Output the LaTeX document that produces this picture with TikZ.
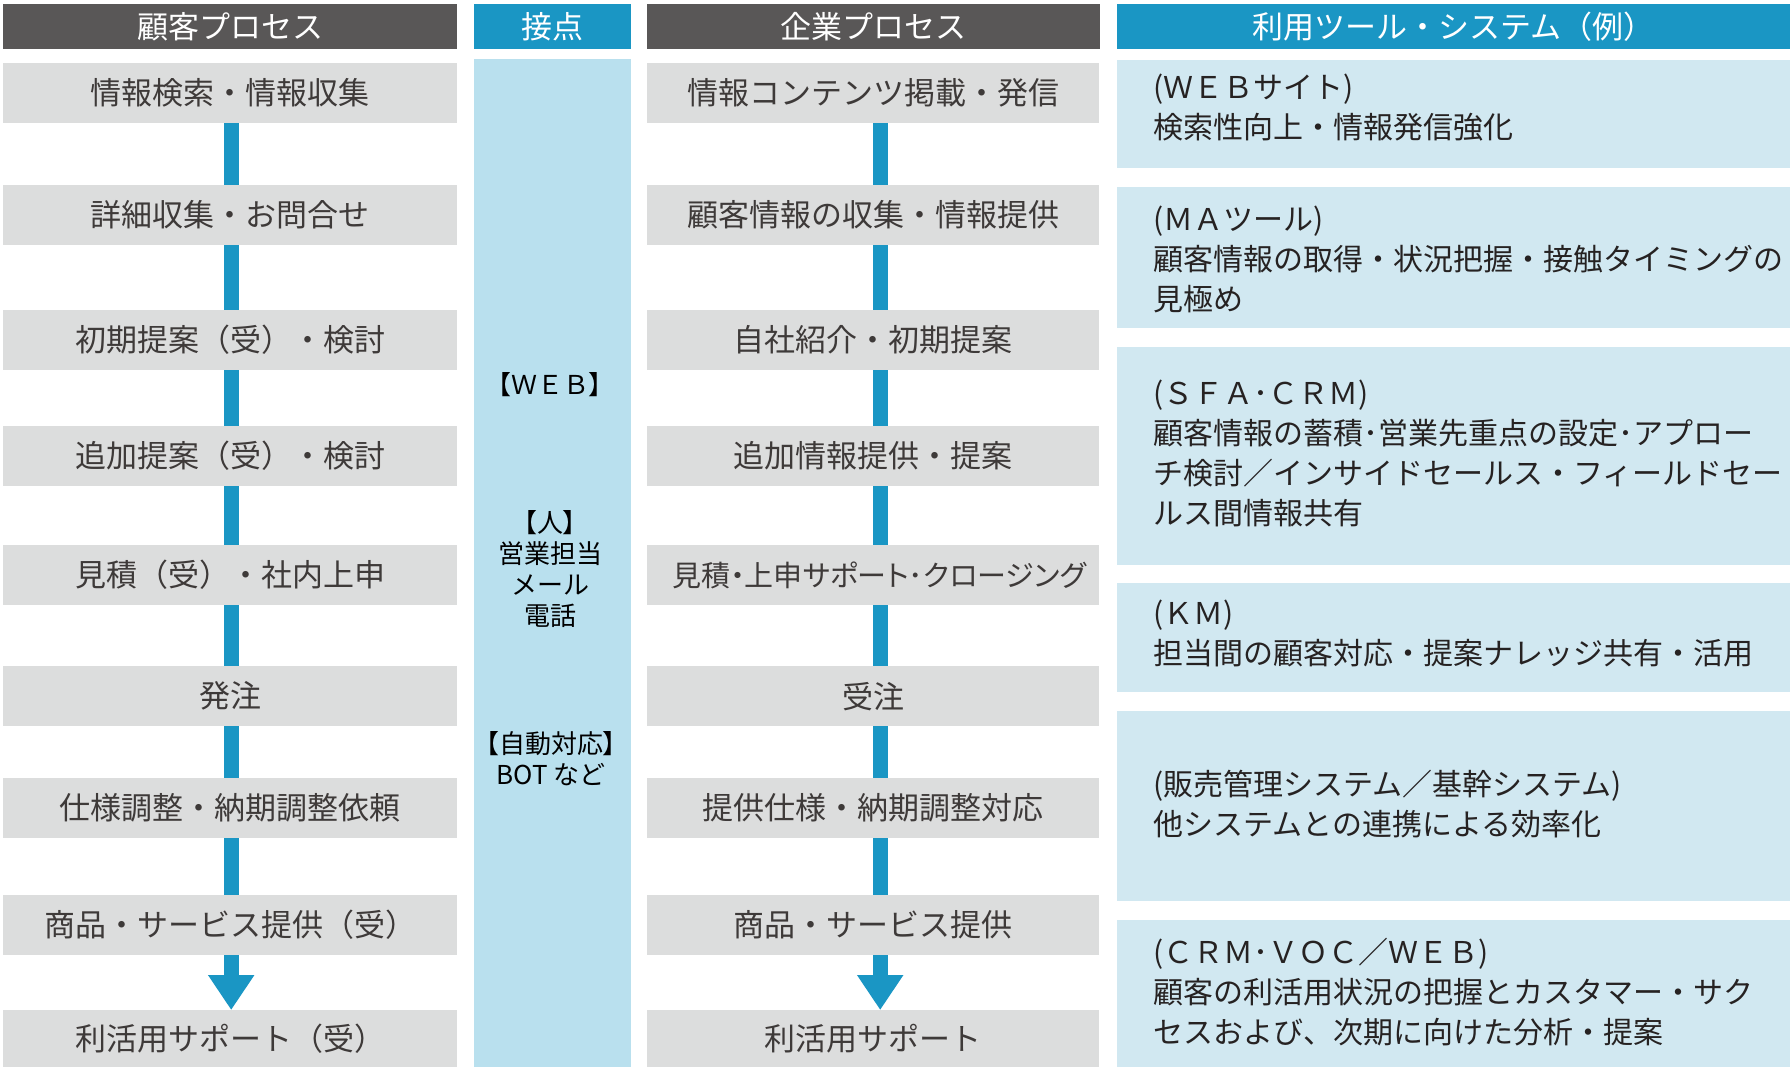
\documentclass[tikz,border=0pt]{standalone}
\usepackage{fontspec}
\setmainfont{Noto Sans CJK JP}
\newfontfamily\jpp{Noto Sans CJK JP}[RawFeature=+palt]
\usetikzlibrary{arrows.meta}
\definecolor{hdrdark}{HTML}{595757}
\definecolor{hdrblue}{HTML}{1A96C4}
\definecolor{boxgray}{HTML}{DCDDDD}
\definecolor{touchblue}{HTML}{B9E0EE}
\definecolor{toolblue}{HTML}{D1E8F1}
\definecolor{txtgray}{HTML}{3E3A39}
\definecolor{txtdark}{HTML}{262222}
\begin{document}
\begin{tikzpicture}[x=1pt,y=-1pt,
  hdr/.style={anchor=north west, inner sep=0pt, minimum height=45pt, text=white, font=\fontsize{31}{36}\selectfont},
  procbox/.style={anchor=north west, fill=boxgray, inner sep=0pt, minimum height=60pt, align=center, text=txtgray, font=\fontsize{31}{36}\selectfont},
  toolbox/.style={anchor=north west, fill=toolblue, inner sep=0pt, minimum width=673pt},
  tooltext/.style={anchor=west, inner sep=0pt, align=left, text=txtdark, font=\fontsize{30}{40}\selectfont},
  touchtext/.style={inner sep=0pt, align=center, text=black, font=\fontsize{26}{31}\selectfont},
  conn/.style={draw=hdrblue, line width=15pt},
  connarrow/.style={draw=hdrblue, line width=15pt, -{Triangle[length=35pt,width=44pt]}}
]
\useasboundingbox (0,0) rectangle (1790,1067);
\clip (0,0) rectangle (1790,1067);

% headers
\node[hdr, fill=hdrdark, minimum width=454pt] (h1) at (3,4) {顧客プロセス};
\node[hdr, fill=hdrblue, minimum width=157pt] (h2) at (474,4) {接点};
\node[hdr, fill=hdrdark, minimum width=453pt] (h3) at (647,4) {企業プロセス};
\node[hdr, fill=hdrblue, minimum width=673pt] (h4) at (1117,4) {利用ツール・システム（例）};

% touch point column
\node[anchor=north west, fill=touchblue, inner sep=0pt, minimum width=157pt, minimum height=1008pt] (tp) at (474,59) {};
\node[touchtext] (tpa) at (550,385) {{\jpp【}ＷＥＢ{\jpp】}};
\node[touchtext] (tpb) at (550,569) {{\jpp【}人{\jpp】}\\営業担当\\メール\\電話};
\node[touchtext] (tpc) at (551,759) {{\jpp【自動対応】}\\BOT など};

% customer process
\tikzset{cbox/.style={procbox, text width=454pt}, ebox/.style={procbox, text width=452pt}}
\node[cbox] (c1) at (3,63) {情報検索・情報収集};
\node[cbox] (c2) at (3,185) {詳細収集・お問合せ};
\node[cbox] (c3) at (3,310) {初期提案（受）・検討};
\node[cbox] (c4) at (3,426) {追加提案（受）・検討};
\node[cbox] (c5) at (3,545) {見積（受）・社内上申};
\node[cbox] (c6) at (3,666) {発注};
\node[cbox] (c7) at (3,778) {仕様調整・納期調整依頼};
\node[cbox] (c8) at (3,895) {商品・サービス提供（受）};
\node[cbox, minimum height=57pt] (c9) at (3,1010) {利活用サポート（受）};

% company process
\node[ebox] (e1) at (647,63) {情報コンテンツ掲載・発信};
\node[ebox] (e2) at (647,185) {顧客情報の収集・情報提供};
\node[ebox] (e3) at (647,310) {自社紹介・初期提案};
\node[ebox] (e4) at (647,426) {追加情報提供・提案};
\node[ebox] (e5) at (647,545) {\hspace*{12pt}{\jpp\fontsize{29}{36}\selectfont 見積・上申サポート･クロージング}};
\node[ebox] (e6) at (647,666) {受注};
\node[ebox] (e7) at (647,778) {提供仕様・納期調整対応};
\node[ebox] (e8) at (647,895) {商品・サービス提供};
\node[ebox, minimum height=57pt] (e9) at (647,1010) {利活用サポート};

% connectors
\foreach \a/\b in {c1/c2,c2/c3,c3/c4,c4/c5,c5/c6,c6/c7,c7/c8}
  \draw[conn] ([xshift=1pt]\a.south) -- ([xshift=1pt]\b.north);
\draw[connarrow] ([xshift=1pt]c8.south) -- ([xshift=1pt]c9.north);
\foreach \a/\b in {e1/e2,e2/e3,e3/e4,e4/e5,e5/e6,e6/e7,e7/e8}
  \draw[conn] ([xshift=7pt]\a.south) -- ([xshift=7pt]\b.north);
\draw[connarrow] ([xshift=7pt]e8.south) -- ([xshift=7pt]e9.north);

% tools
\node[toolbox, minimum height=108pt] (t1) at (1117,60) {};
\node[toolbox, minimum height=141pt] (t2) at (1117,187) {};
\node[toolbox, minimum height=218pt] (t3) at (1117,347) {};
\node[toolbox, minimum height=109pt] (t4) at (1117,583) {};
\node[toolbox, minimum height=190pt] (t5) at (1117,711) {};
\node[toolbox, minimum height=160pt] (t6) at (1117,920) {};

\node[tooltext] (tt1) at (1153,108) {\vphantom{国}(ＷＥＢサイト)\\検索性向上・情報発信強化};
\node[tooltext] (tt2) at (1153,259) {\vphantom{国}(ＭＡツール)\\顧客情報の取得・状況把握・接触タイミングの\\見極め};
\node[tooltext] (tt3) at (1153,453) {\vphantom{国}(ＳＦＡ･ＣＲＭ)\\顧客情報の蓄積･営業先重点の設定･アプロー\\チ検討／インサイドセールス・フィールドセー\\ルス間情報共有};
\node[tooltext] (tt4) at (1153,633) {\vphantom{国}(ＫＭ)\\担当間の顧客対応・提案ナレッジ共有・活用};
\node[tooltext] (tt5) at (1153,804) {(販売管理システム／基幹システム)\\他システムとの連携による効率化};
\node[tooltext] (tt6) at (1153,992) {\vphantom{国}(ＣＲＭ･ＶＯＣ／ＷＥＢ)\\顧客の利活用状況の把握とカスタマー・サク\\セスおよび、次期に向けた分析・提案};
\end{tikzpicture}
\end{document}
